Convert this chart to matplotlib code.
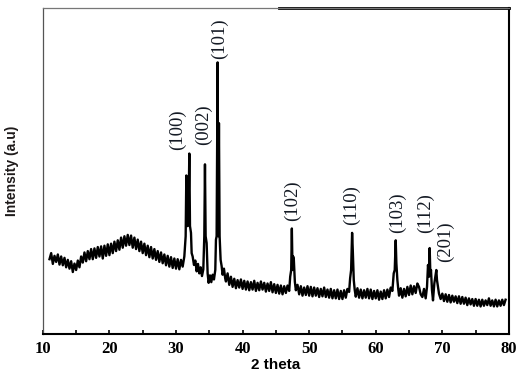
import matplotlib
matplotlib.use('Agg')
import matplotlib.pyplot as plt
from matplotlib.ticker import MultipleLocator
import matplotlib.transforms as mtransforms

# XRD pattern (intensity in arbitrary units)
two_theta = [
    11.00, 11.25, 11.50, 11.75, 12.00, 12.25, 12.50, 12.75, 13.00, 13.25,
    13.50, 13.75, 14.00, 14.25, 14.50, 14.75, 15.00, 15.25, 15.50, 15.75,
    16.00, 16.25, 16.50, 16.75, 17.00, 17.25, 17.50, 17.75, 18.00, 18.25,
    18.50, 18.75, 19.00, 19.25, 19.50, 19.75, 20.00, 20.25, 20.50, 20.75,
    21.00, 21.25, 21.50, 21.75, 22.00, 22.25, 22.50, 22.75, 23.00, 23.25,
    23.50, 23.75, 24.00, 24.25, 24.50, 24.75, 25.00, 25.25, 25.50, 25.75,
    26.00, 26.25, 26.50, 26.75, 27.00, 27.25, 27.50, 27.75, 28.00, 28.25,
    28.50, 28.75, 29.00, 29.25, 29.50, 29.75, 30.00, 30.25, 30.50, 30.75,
    31.00,
    31.25, 31.45, 31.55, 31.65, 31.75, 31.90, 32.00, 32.10, 32.25, 32.35,
    32.50, 32.70, 32.90, 33.10, 33.30, 33.50, 33.70, 33.90, 34.10, 34.25,
    34.35, 34.45, 34.60, 34.75, 34.90, 35.10, 35.30, 35.50, 35.70, 35.90,
    36.00, 36.10, 36.25, 36.35, 36.45, 36.55, 36.70, 36.85, 37.00, 37.20,
    37.40,
    37.50, 37.75, 38.00, 38.25, 38.50, 38.75, 39.00, 39.25, 39.50, 39.75,
    40.00, 40.25, 40.50, 40.75, 41.00, 41.25, 41.50, 41.75, 42.00, 42.25,
    42.50, 42.75, 43.00, 43.25, 43.50, 43.75, 44.00, 44.25, 44.50, 44.75,
    45.00, 45.25, 45.50, 45.75, 46.00, 46.25, 46.50, 46.75, 47.00,
    47.15, 47.30, 47.40, 47.50, 47.60, 47.70, 47.85, 48.00,
    48.25, 48.50, 48.75, 49.00, 49.25, 49.50, 49.75, 50.00, 50.25, 50.50,
    50.75, 51.00, 51.25, 51.50, 51.75, 52.00, 52.25, 52.50, 52.75, 53.00,
    53.25, 53.50, 53.75, 54.00, 54.25, 54.50, 54.75, 55.00, 55.25, 55.50,
    55.75, 56.00,
    56.15, 56.30, 56.45, 56.55, 56.70, 56.85,
    57.00, 57.25, 57.50, 57.75, 58.00, 58.25, 58.50, 58.75, 59.00, 59.25,
    59.50, 59.75, 60.00, 60.25, 60.50, 60.75, 61.00, 61.25, 61.50, 61.75,
    62.00, 62.25, 62.50,
    62.70, 62.85, 63.00, 63.10, 63.25, 63.40,
    63.50, 63.75, 64.00, 64.25, 64.50, 64.75, 65.00, 65.25, 65.50, 65.75,
    66.00, 66.25, 66.50, 66.75, 67.00, 67.25, 67.50, 67.70,
    67.85, 68.00, 68.10, 68.20, 68.30, 68.45, 68.60, 68.80,
    68.95, 69.10, 69.20, 69.35, 69.50,
    69.75, 70.00, 70.25, 70.50, 70.75, 71.00, 71.25, 71.50, 71.75, 72.00,
    72.25, 72.50, 72.75, 73.00, 73.25, 73.50, 73.75, 74.00, 74.25, 74.50,
    74.75, 75.00, 75.25, 75.50, 75.75, 76.00, 76.25, 76.50, 76.75, 77.00,
    77.25, 77.50, 77.75, 78.00, 78.25, 78.50, 78.75, 79.00, 79.25, 79.50,
]
intensity = [
    232, 250, 218, 242, 224, 246, 216, 240, 214, 236,
    208, 230, 204, 226, 194, 219, 200, 228, 208, 240,
    222, 252, 226, 256, 232, 262, 232, 264, 236, 268,
    240, 270, 234, 272, 242, 276, 244, 278, 250, 284,
    256, 288, 260, 296, 266, 300, 272, 304, 274, 302,
    266, 296, 262, 290, 256, 284, 250, 278, 244, 272,
    238, 268, 234, 262, 230, 256, 224, 252, 220, 246,
    214, 242, 210, 238, 206, 234, 204, 232, 202, 230,
    210,
    240, 300, 480, 470, 330, 400, 545, 330, 310, 250,
    240, 215, 228, 196, 218, 190, 208, 182, 202, 300,
    513, 300, 280, 190, 162, 184, 164, 186, 172, 200,
    290, 300, 815, 300, 635, 300, 230, 212, 186, 204,
    174,
    166, 190, 156, 180, 150, 174, 146, 170, 148, 172,
    144, 168, 142, 166, 140, 164, 142, 168, 138, 162,
    140, 166, 142, 162, 136, 160, 138, 164, 134, 158,
    132, 156, 130, 154, 128, 152, 132, 154, 138,
    180, 200, 323, 200, 240, 230, 165, 140,
    156, 128, 152, 124, 148, 126, 152, 124, 150, 122,
    148, 124, 146, 120, 144, 122, 148, 120, 142, 118,
    144, 116, 140, 116, 142, 114, 138, 114, 140, 118,
    144, 135,
    175, 200, 310, 260, 170, 140,
    121, 146, 118, 142, 116, 140, 118, 144, 116, 142,
    114, 138, 116, 140, 112, 136, 114, 140, 116, 142,
    120, 148, 138,
    190, 200, 288, 220, 170, 140,
    124, 146, 118, 144, 122, 150, 126, 154, 128, 152,
    132, 160, 150, 128, 120, 144, 116, 150,
    215, 180, 265, 190, 200, 140, 110, 160,
    180, 200, 170, 150, 130,
    114, 130, 108, 128, 106, 126, 104, 124, 106, 122,
    102, 122, 100, 120, 100, 118, 96, 116, 98, 114,
    94, 114, 94, 112, 92, 112, 94, 110, 96, 116,
    94, 110, 92, 112, 92, 110, 94, 112, 96, 112,
]

peak_labels = ['(100)', '(002)', '(101)', '(102)', '(110)', '(103)', '(112)', '(201)']
label_x = [30.25, 34.1, 36.6, 47.5, 56.4, 63.2, 67.4, 70.4]
label_y = [555, 570, 825, 345, 332, 310, 310, 225]

plt.rcParams['font.family'] = ['Liberation Serif', 'DejaVu Serif']

fig = plt.figure(figsize=(5.29, 3.81), dpi=100)
ax = fig.add_axes([0.081, 0.123, 0.881, 0.855])

ax.plot(two_theta, intensity, color='k', lw=1.7)

for lab, lx, ly in zip(peak_labels, label_x, label_y):
    ax.text(lx, ly, lab, rotation=90, ha='center', va='bottom',
            fontsize=13.5, color='#141a24')

ax.set_xlim(10, 80)
ax.set_ylim(10, 975)
ax.xaxis.set_major_locator(MultipleLocator(10))
ax.xaxis.set_minor_locator(MultipleLocator(5))
ax.tick_params(axis='x', which='both', direction='in', length=3, width=1.2,
               labelsize=12, pad=5)
for t in ax.get_xticklabels():
    t.set_fontweight('bold')
ax.set_yticks([])

ax.spines['left'].set_color('#555555')
ax.spines['left'].set_linewidth(0.9)
ax.spines['bottom'].set_linewidth(1.5)
ax.spines['right'].set_linewidth(1.5)
ax.spines['top'].set_color('#777777')
ax.spines['top'].set_linewidth(0.9)
# darker right half of the top frame
trans = mtransforms.blended_transform_factory(ax.transData, ax.transAxes)
ax.plot([45.5, 80], [1, 1], color='k', lw=2, transform=trans, clip_on=False)

ax.set_xlabel('2 theta', fontsize=11, fontweight='bold',
              family='Liberation Sans', labelpad=1)
ax.set_ylabel('Intensity (a.u)', fontsize=10, fontweight='bold',
              family='Liberation Sans', color='#1e1a1a', labelpad=17)

fig.savefig('out.png', dpi=100)
